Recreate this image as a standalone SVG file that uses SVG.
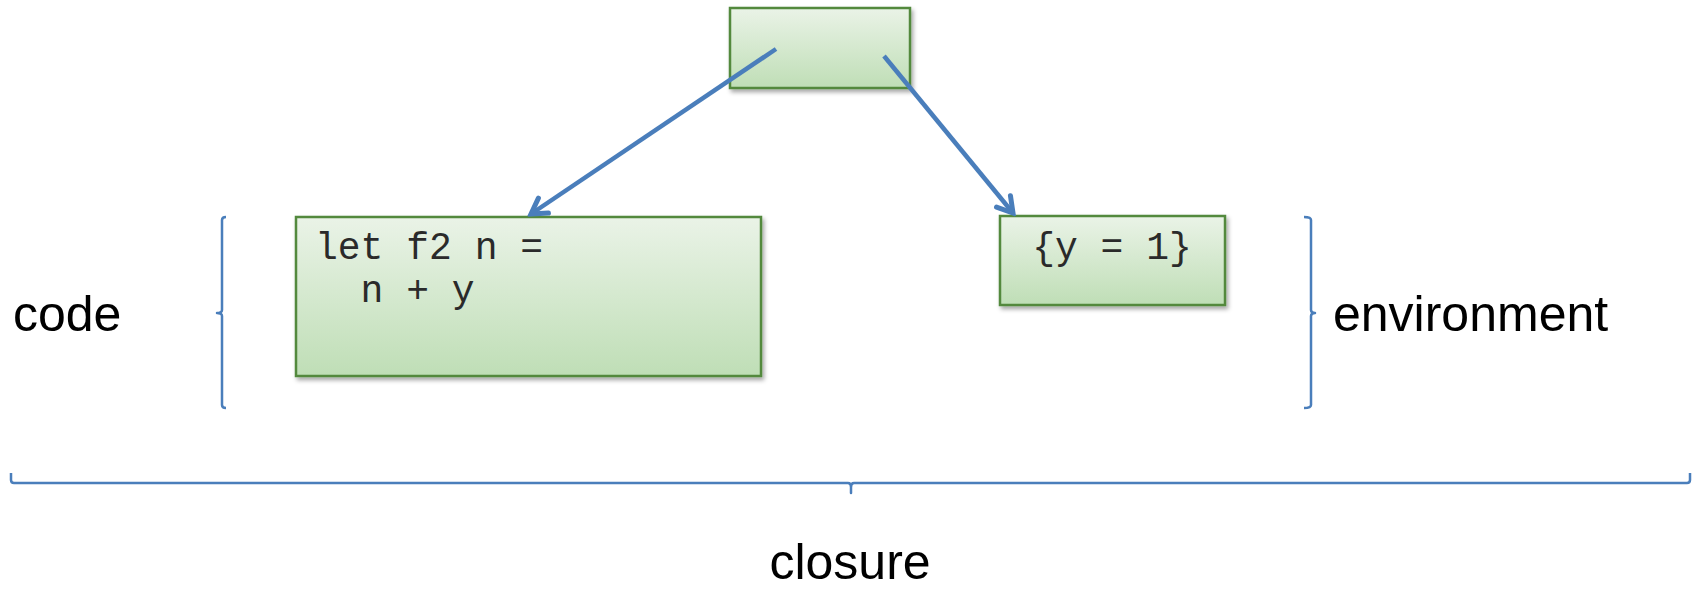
<svg xmlns="http://www.w3.org/2000/svg" width="1696" height="590" viewBox="0 0 1696 590">
<style>
.box{fill:url(#g);stroke:#52893d;stroke-width:2.5;filter:url(#sh)}
.mono{font-family:"Liberation Mono","Courier New",monospace;font-size:38px;fill:#2a2a2a}
.lbl{font-family:"Liberation Sans",Arial,sans-serif;font-size:50px;fill:#000}
.conn{stroke:#4a7ebb;stroke-width:4.5;fill:none}
.brk{stroke:#4a7ebb;stroke-width:2.5;fill:none;stroke-linejoin:round}
</style>
<defs>
<linearGradient id="g" x1="0" y1="0" x2="0" y2="1">
<stop offset="0" stop-color="#eaf3e7"/>
<stop offset="1" stop-color="#bfdeb6"/>
</linearGradient>
<filter id="sh" x="-10%" y="-10%" width="120%" height="130%">
<feDropShadow dx="2" dy="3" stdDeviation="2" flood-color="#000" flood-opacity="0.35"/>
</filter>
<marker id="ah" markerUnits="userSpaceOnUse" viewBox="-20 -12 24 24" markerWidth="24" markerHeight="24" refX="0" refY="0" orient="auto">
<path d="M-15,-9 L0,0 L-15,9" fill="none" stroke="#4a7ebb" stroke-width="5" stroke-linecap="round" stroke-linejoin="miter"/>
</marker>
</defs>
<rect width="1696" height="590" fill="#fff"/>
<g id="closure-node">
<rect class="box" x="730" y="8" width="180" height="80"/>
</g>
<g id="code-node">
<rect class="box" x="296" y="217" width="465" height="159"/>
<text class="mono" x="315" y="259">let f2 n =</text>
<text class="mono" x="315" y="302" xml:space="preserve">  n + y</text>
</g>
<g id="env-node">
<rect class="box" x="1000" y="216" width="225" height="89"/>
<text class="mono" x="1112" y="259" text-anchor="middle">{y = 1}</text>
</g>
<g id="connectors">
<line class="conn" x1="776" y1="49" x2="531" y2="214" marker-end="url(#ah)"/>
<line class="conn" x1="884" y1="56" x2="1013" y2="213" marker-end="url(#ah)"/>
</g>
<g id="brackets">
<path class="brk" d="M226,217 Q222,217 222,220 L222,310 Q222,313 217,313 Q222,313 222,316 L222,405 Q222,408 226,408"/>
<path class="brk" d="M1304,217 Q1311,217 1311,220 L1311,310 Q1311,313 1315,313 Q1311,313 1311,316 L1311,405 Q1311,408 1304,408"/>
<path class="brk" d="M11,473 L11,480 Q11,483 14,483 L848,483 Q851,483 851,487 L851,493 L851,487 Q851,483 854,483 L1687,483 Q1690,483 1690,480 L1690,473"/>
</g>
<g id="labels">
<text class="lbl" x="13" y="331">code</text>
<text class="lbl" x="1333" y="331">environment</text>
<text class="lbl" x="850" y="579" text-anchor="middle">closure</text>
</g>
</svg>
